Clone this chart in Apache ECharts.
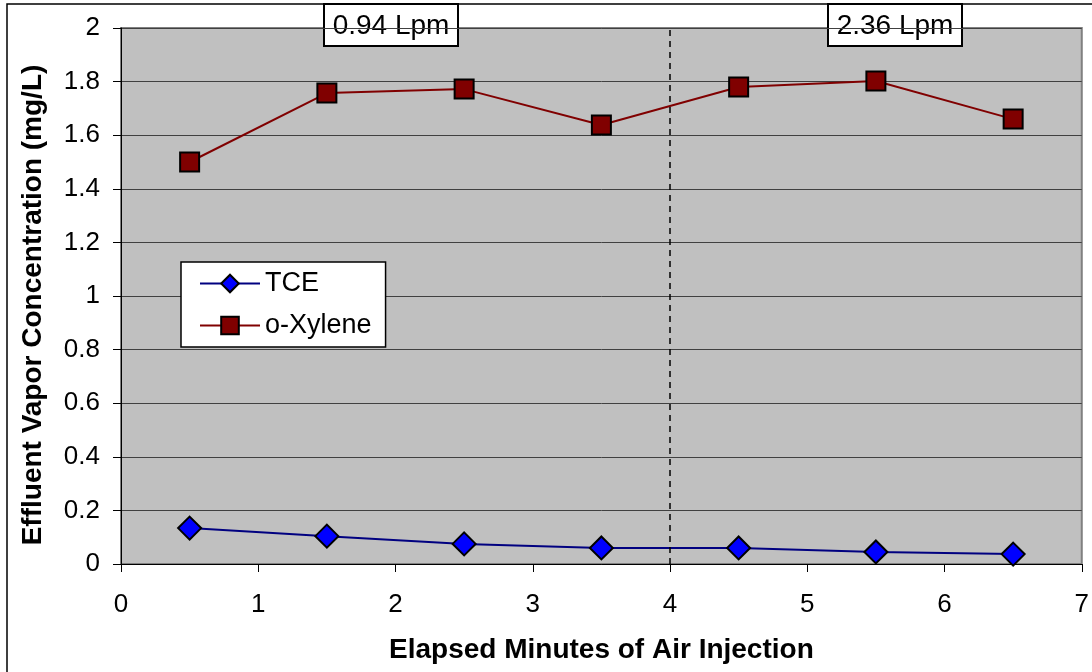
<!DOCTYPE html>
<html>
<head>
<meta charset="utf-8">
<script src="https://cdn.jsdelivr.net/npm/echarts@6/dist/echarts.min.js"></script>
<style>
  html, body { margin: 0; padding: 0; background: #fff; }
  #chart { width: 1092px; height: 672px; }
</style>
</head>
<body>
<div id="chart"></div>
<script>
// elapsed minutes (midpoint of each sampling minute)
var minutes = [0.5, 1.5, 2.5, 3.5, 4.5, 5.5, 6.5];
var tceValues = [0.134, 0.104, 0.075, 0.060, 0.060, 0.045, 0.037];
var xyleneValues = [1.50, 1.757, 1.772, 1.638, 1.780, 1.802, 1.660];
var flowLabels = ['0.94 Lpm', '2.36 Lpm'];
var flowSwitchAt = 4;

var FONT = '"Liberation Sans", Arial, sans-serif';

function pairs(xs, ys) {
  return xs.map(function (x, i) { return [x, ys[i]]; });
}

// small white boxes with the flow rate on top of the plot
function flowBox(text, left) {
  return {
    type: 'group',
    left: left,
    top: 3,
    children: [
      {
        type: 'rect',
        shape: { x: 0, y: 0, width: 134, height: 42 },
        style: { fill: '#fff', stroke: '#000', lineWidth: 2 }
      },
      {
        type: 'text',
        x: 67,
        y: 22,
        style: {
          text: text,
          font: '28px ' + FONT,
          fill: '#000',
          align: 'center',
          verticalAlign: 'middle'
        }
      }
    ]
  };
}

var chart = echarts.init(document.getElementById('chart'));
chart.setOption({
  animation: false,
  backgroundColor: '#fff',
  grid: {
    left: 121,
    right: 8,
    top: 28,
    bottom: 108,
    show: true,
    backgroundColor: '#c0c0c0',
    borderColor: '#808080',
    borderWidth: 2
  },
  legend: {
    orient: 'vertical',
    left: 181,
    top: 262,
    width: 207,
    padding: [8, 14, 8, 18],
    itemGap: 15,
    itemWidth: 60,
    itemHeight: 22,
    backgroundColor: '#fff',
    borderColor: '#000',
    borderWidth: 1.5,
    textStyle: { fontFamily: FONT, fontSize: 27, color: '#000', padding: [0, 0, 0, 0] },
    data: ['TCE', 'o-Xylene']
  },
  xAxis: {
    type: 'value',
    min: 0,
    max: 7,
    interval: 1,
    name: 'Elapsed Minutes of Air Injection',
    nameLocation: 'middle',
    nameGap: 72,
    nameTextStyle: { fontFamily: FONT, fontSize: 28, fontWeight: 'bold', color: '#000' },
    axisLine: { show: true, onZero: false, lineStyle: { color: '#000', width: 1 } },
    axisTick: { show: true, length: 8, lineStyle: { color: '#000' } },
    axisLabel: { fontFamily: FONT, fontSize: 26, color: '#000', margin: 28 },
    splitLine: { show: false }
  },
  yAxis: {
    type: 'value',
    min: 0,
    max: 2,
    interval: 0.2,
    name: 'Effluent Vapor Concentration (mg/L)',
    nameLocation: 'middle',
    nameGap: 74,
    nameTextStyle: {
      fontFamily: FONT,
      fontSize: 28,
      fontWeight: 'bold',
      color: '#000',
      padding: [0, 18, 0, 0]
    },
    axisLine: { show: true, lineStyle: { color: '#000', width: 1 } },
    axisTick: { show: true, length: 8, lineStyle: { color: '#000' } },
    axisLabel: {
      fontFamily: FONT,
      fontSize: 26,
      color: '#000',
      margin: 21,
      formatter: function (v) { return String(Math.round(v * 10) / 10); }
    },
    splitLine: { show: true, lineStyle: { color: '#404040', width: 1 } }
  },
  series: [
    {
      name: 'TCE',
      type: 'line',
      data: pairs(minutes, tceValues),
      symbol: 'diamond',
      symbolSize: 23,
      lineStyle: { color: '#000080', width: 2 },
      itemStyle: { color: '#0000ff', borderColor: '#000', borderWidth: 2 },
      markLine: {
        silent: true,
        symbol: 'none',
        label: { show: false },
        lineStyle: { color: '#000', type: [6, 5], width: 1.5 },
        data: [{ xAxis: flowSwitchAt }]
      }
    },
    {
      name: 'o-Xylene',
      type: 'line',
      data: pairs(minutes, xyleneValues),
      symbol: 'rect',
      symbolSize: 19,
      lineStyle: { color: '#800000', width: 2 },
      itemStyle: { color: '#800000', borderColor: '#000', borderWidth: 2 }
    }
  ],
  graphic: [
    {
      type: 'rect',
      shape: { x: 7, y: 4, width: 1100, height: 700 },
      style: { fill: 'none', stroke: '#000', lineWidth: 1.5 },
      z: -1
    },
    flowBox(flowLabels[0], 323),
    flowBox(flowLabels[1], 827)
  ]
});
</script>
</body>
</html>
